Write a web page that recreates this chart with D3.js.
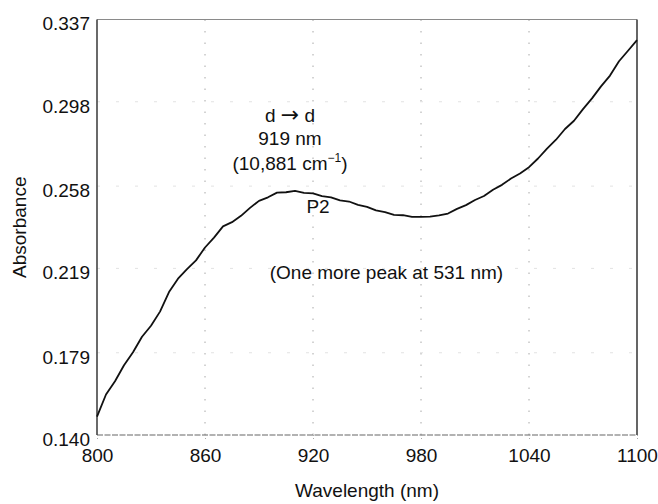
<!DOCTYPE html>
<html>
<head>
<meta charset="utf-8">
<script src="https://cdn.jsdelivr.net/npm/d3@7"></script>
<style>
  html,body{margin:0;padding:0;background:#fff;}
  svg{display:block;font-family:"Liberation Sans",Arial,Helvetica,sans-serif;}
</style>
</head>
<body>
<div id="chart"></div>
<script>
const wavelengths=[800,805,810,815,820,825,830,835,840,845,850,855,860,865,870,875,880,885,890,895,900,905,910,915,920,925,930,935,940,945,950,955,960,965,970,975,980,985,990,995,1000,1005,1010,1015,1020,1025,1030,1035,1040,1045,1050,1055,1060,1065,1070,1075,1080,1085,1090,1095,1100];
const absorbance=[0.1487,0.1592,0.1655,0.1731,0.1792,0.1866,0.1918,0.1985,0.2078,0.2141,0.2186,0.2228,0.2289,0.2336,0.2389,0.2409,0.2439,0.2477,0.2510,0.2527,0.2549,0.2551,0.2557,0.2548,0.2546,0.2533,0.2527,0.2512,0.2507,0.2491,0.2482,0.2465,0.2457,0.2444,0.2442,0.2434,0.2434,0.2435,0.2441,0.2450,0.2472,0.2490,0.2514,0.2533,0.2563,0.2586,0.2616,0.2640,0.2670,0.2711,0.2758,0.2800,0.2851,0.2890,0.2945,0.2996,0.3053,0.3104,0.3172,0.3222,0.3272];
const xTicks=[800,860,920,980,1040,1100];
const yTicks=[0.140,0.179,0.219,0.258,0.298,0.337];

const W=658,H=504;
const m={top:19.5,right:21,bottom:69,left:97};
const iw=W-m.left-m.right, ih=H-m.top-m.bottom;
const svg=d3.select("#chart").append("svg").attr("width",W).attr("height",H);
const g=svg.append("g").attr("transform",`translate(${m.left},${m.top})`);
const x=d3.scaleLinear().domain([800,1100]).range([0,iw]);
const y=d3.scaleLinear().domain([0.140,0.337]).range([ih,0]);

// faint dotted grid
g.append("g").selectAll("line").data(xTicks.slice(1,-1)).join("line")
  .attr("x1",d=>x(d)).attr("x2",d=>x(d)).attr("y1",0).attr("y2",ih)
  .attr("stroke","#a8a8a8").attr("stroke-width",1).attr("stroke-dasharray","1.5,10");
g.append("g").selectAll("line").data(yTicks.slice(1,-1)).join("line")
  .attr("x1",0).attr("x2",iw).attr("y1",d=>y(d)).attr("y2",d=>y(d))
  .attr("stroke","#e2e2e2").attr("stroke-width",1).attr("stroke-dasharray","3,16");

// frame
g.append("line").attr("x1",0).attr("x2",iw).attr("y1",0).attr("y2",0).attr("stroke","#8a8a8a").attr("stroke-width",1.2);
g.append("line").attr("x1",0).attr("x2",iw).attr("y1",ih).attr("y2",ih).attr("stroke","#666").attr("stroke-width",1.2).attr("stroke-dasharray","6,1.5");
g.append("line").attr("x1",0).attr("x2",0).attr("y1",0).attr("y2",ih).attr("stroke","#444").attr("stroke-width",1.6);
g.append("line").attr("x1",iw).attr("x2",iw).attr("y1",0).attr("y2",ih).attr("stroke","#555").attr("stroke-width",1.8);

// axes (labels only, small ticks)
g.append("g").attr("transform",`translate(0,${ih})`)
  .call(d3.axisBottom(x).tickValues(xTicks).tickSize(5).tickPadding(9).tickFormat(d3.format("d")))
  .call(s=>s.select(".domain").remove())
  .call(s=>s.selectAll("line").attr("stroke","#aaa").attr("stroke-dasharray","1,2"))
  .call(s=>s.selectAll("text").attr("font-size",19).attr("fill","#111").attr("font-family","Liberation Sans, Arial, sans-serif"));
g.append("g")
  .call(d3.axisLeft(y).tickValues(yTicks).tickSize(0).tickPadding(7).tickFormat(d3.format(".3f")))
  .call(s=>s.select(".domain").remove())
  .call(s=>s.selectAll("text").attr("dy","0.55em").attr("font-size",19).attr("fill","#111").attr("font-family","Liberation Sans, Arial, sans-serif"));

// spectrum
const line=d3.line().x((d,i)=>x(wavelengths[i])).y(d=>y(d)).curve(d3.curveLinear);
g.append("path").datum(absorbance).attr("d",line)
  .attr("fill","none").attr("stroke","#111").attr("stroke-width",1.8).attr("stroke-linejoin","round");

// annotations
const ann=g.append("g").attr("font-size",19).attr("fill","#111").attr("text-anchor","middle");
const dd=ann.append("text").attr("x",x(907.2)).attr("y",102.5);
dd.append("tspan").text("d ");
dd.append("tspan").attr("font-family","DejaVu Sans").attr("font-size",22).text("\u2192");
dd.append("tspan").text(" d");
ann.append("text").attr("x",x(907.2)).attr("y",125).text("919 nm");
const cm=ann.append("text").attr("x",x(907.2)).attr("y",150.5);
cm.append("tspan").text("(10,881 cm");
cm.append("tspan").attr("font-size",12).attr("dy",-8).text("\u22121");
cm.append("tspan").attr("dy",8).text(")");
ann.append("text").attr("x",x(922.8)).attr("y",193.5).text("P2");
ann.append("text").attr("x",x(960.8)).attr("y",259.5).text("(One more peak at 531 nm)");

// axis titles
svg.append("text").attr("x",m.left+iw/2).attr("y",497).attr("text-anchor","middle")
  .attr("font-size",19).attr("fill","#111").text("Wavelength (nm)");
svg.append("text").attr("transform",`translate(26,${m.top+ih/2}) rotate(-90)`).attr("text-anchor","middle")
  .attr("font-size",19).attr("fill","#111").text("Absorbance");
</script>
</body>
</html>
